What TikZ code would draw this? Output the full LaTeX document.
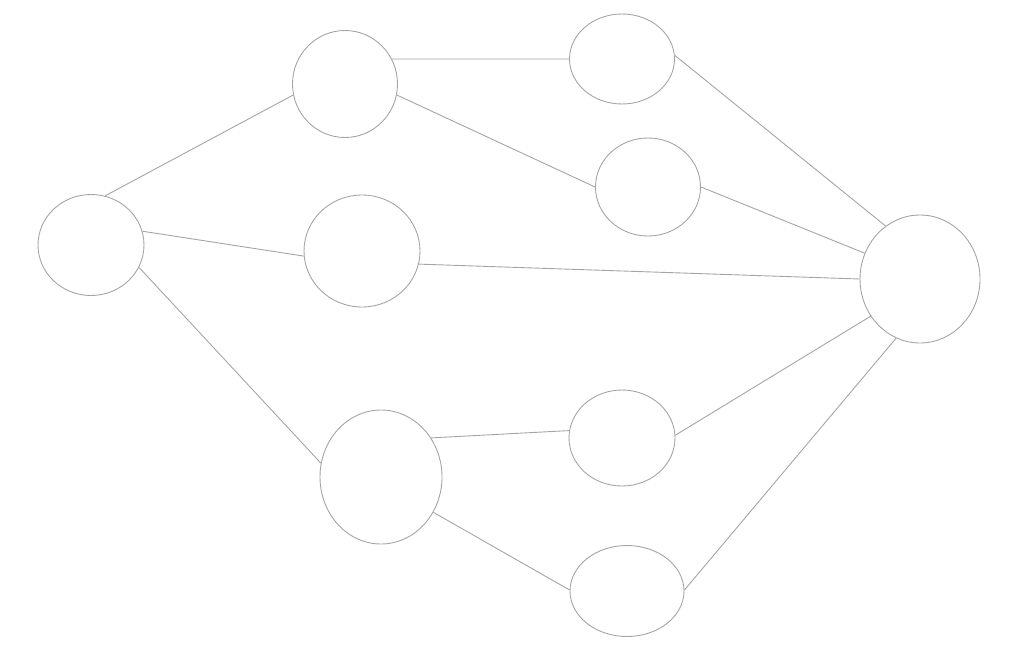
\documentclass[tikz,border=0pt]{standalone}
\usepackage{tikz}
\usetikzlibrary{shapes.geometric}
\definecolor{linegray}{RGB}{165,165,165}

\begin{document}
\begin{tikzpicture}[x=1pt,y=-1pt,
      every ellipse node/.style={draw=linegray,line width=0.9pt,inner sep=0mm},
      link/.style={draw=linegray,line width=0.9pt}]
      \useasboundingbox (0,0) rectangle (1024,664);

      \node[ellipse,minimum width=106pt,minimum height=101pt] (a) at (91,245) {};
      \node[ellipse,minimum width=105pt,minimum height=107pt] (b) at (345,84) {};
      \node[ellipse,minimum width=116pt,minimum height=112pt] (c) at (362,251) {};
      \node[ellipse,minimum width=122pt,minimum height=134pt] (d) at (381,477) {};
      \node[ellipse,minimum width=105pt,minimum height=90pt] (e) at (622,59) {};
      \node[ellipse,minimum width=105pt,minimum height=98pt] (f) at (648,187) {};
      \node[ellipse,minimum width=106pt,minimum height=96pt] (g) at (622,438) {};
      \node[ellipse,minimum width=114pt,minimum height=91pt] (h) at (627,591) {};
      \node[ellipse,minimum width=120pt,minimum height=128pt] (i) at (920,279) {};

      \draw[link] (a.74) -- (b.192);
      \draw[link] (a.15) -- (c.185);
      \draw[link] (a.335) -- (d.167);
      \draw[link] (b.28) -- (e.180);
      \draw[link] (b.348) -- (f.180);
      \draw[link] (c.347) -- (i.180);
      \draw[link] (d.38) -- (g.172);
      \draw[link] (d.326) -- (h.179);
      \draw[link] (e.4) -- (i.123);
      \draw[link] (f.0) -- (i.155);
      \draw[link] (g.3) -- (i.217);
      \draw[link] (h.1) -- (i.248);
    \end{tikzpicture}
\end{document}
